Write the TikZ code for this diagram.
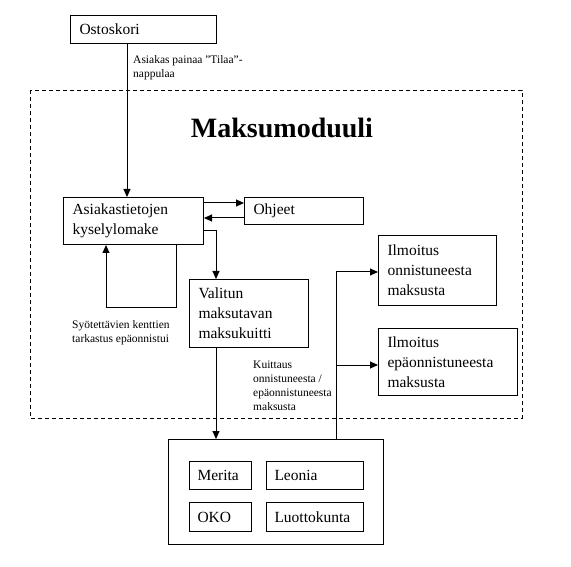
\documentclass[tikz,border=0pt]{standalone}
\usepackage{fontspec}
\setmainfont{Liberation Serif}
\usetikzlibrary{arrows.meta}
\begin{document}
\begin{tikzpicture}[x=1pt,y=-1pt,
  box/.style={draw,line width=1pt,anchor=north west,inner xsep=9pt,inner ysep=0pt,align=left,
    font=\fontsize{15.5}{20}\selectfont},
  lbl/.style={anchor=north west,inner sep=0pt,align=left,font=\fontsize{11.5}{14}\selectfont},
  line/.style={line width=1pt},
  arr/.style={line width=1pt,-{Triangle[length=8pt,width=7pt]}},
  frame/.style={line width=0.9pt,dash pattern=on 4pt off 3pt}]
\useasboundingbox (0,0) rectangle (571,567);
\draw[frame] (30,90) rectangle (522,418);
\node[font=\fontsize{28}{32}\selectfont\bfseries] (title) at (282,128) {Maksumoduuli};
\node[box,minimum width=146pt,minimum height=28pt,text width=128pt] (ost) at (70,15) {Ostoskori};
\node[box,minimum width=140pt,minimum height=47pt,text width=122pt] (asi) at (63,197) {Asiakastietojen\\kyselylomake};
\node[box,minimum width=119pt,minimum height=27pt,text width=101pt] (ohj) at (244,197) {Ohjeet};
\node[box,minimum width=119pt,minimum height=68pt,text width=101pt] (val) at (189,279) {Valitun\\maksutavan\\maksukuitti};
\node[box,minimum width=118pt,minimum height=70pt,text width=100pt] (ilm1) at (378,235) {Ilmoitus\\onnistuneesta\\maksusta};
\node[box,minimum width=139pt,minimum height=67pt,text width=121pt] (ilm2) at (378,328) {Ilmoitus\\epäonnistuneesta\\maksusta};
\node[box,minimum width=215pt,minimum height=105pt,text width=197pt] (bank) at (168,439) {};
\node[box,minimum width=62pt,minimum height=28pt,text width=46pt,inner xsep=8pt] (mer) at (189,461) {Merita};
\node[box,minimum width=97pt,minimum height=28pt,text width=81pt,inner xsep=8pt] (leo) at (266,461) {Leonia};
\node[box,minimum width=62pt,minimum height=29pt,text width=46pt,inner xsep=8pt] (oko) at (189,502) {OKO};
\node[box,minimum width=97pt,minimum height=29pt,text width=81pt,inner xsep=8pt] (luo) at (266,502) {Luottokunta};
\node[lbl] (l1) at (133,55) {Asiakas painaa ”Tilaa”-\\nappulaa};
\node[lbl] (l2) at (72,320) {Syötettävien kenttien\\tarkastus epäonnistui};
\node[lbl] (l3) at (253,361) {Kuittaus\\onnistuneesta /\\epäonnistuneesta\\maksusta};
\coordinate (c1) at (127,0);
\coordinate (c2) at (216,0);
\coordinate (c3) at (176,307);
\coordinate (c4) at (106,307);
\coordinate (c5) at (336,272);
\coordinate (c6) at (336,365);
\draw[arr] (ost.south -| c1) -- (asi.north -| c1);
\draw[arr] (asi.east |- 0,203) -- (ohj.west |- 0,203);
\draw[arr] (ohj.west |- 0,218) -- (asi.east |- 0,218);
\draw[arr] (asi.east |- 0,231) -| (val.north -| c2);
\draw[arr] (asi.south -| c3) -- (c3) -- (c4) -- (asi.south -| c4);
\draw[arr] (val.south -| c2) -- (bank.north -| c2);
\draw[line] (bank.north -| c5) -- (c5);
\draw[arr] (c5) -- (ilm1.west |- c5);
\draw[arr] (c6) -- (ilm2.west |- c6);
\end{tikzpicture}
\end{document}
